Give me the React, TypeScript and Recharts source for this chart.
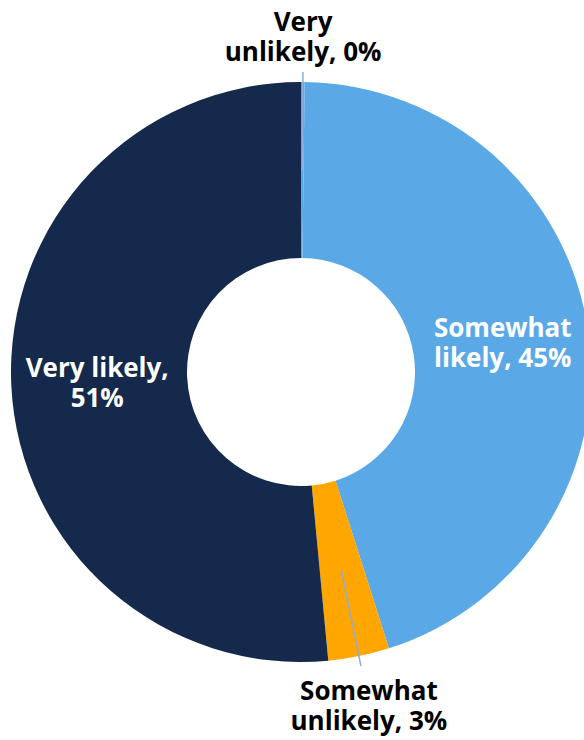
import { PieChart, Pie, Cell } from 'recharts';

const categories = ['Very unlikely', 'Somewhat likely', 'Somewhat unlikely', 'Very likely'];
const shares = [0.2, 44.9, 3.4, 51.5];
const labelLines = [
  ['Very', 'unlikely, 0%'],
  ['Somewhat', 'likely, 45%'],
  ['Somewhat', 'unlikely, 3%'],
  ['Very likely,', '51%'],
];

const colors = ['#5AA9E6', '#5AA9E6', '#FFA600', '#14294B'];
// where each label sits: inside the ring or outside with a leader line
const labelPlacement = [
  { outside: true, radius: 336, color: '#000000' },
  { outside: false, radius: 204, color: '#FFFFFF' },
  { outside: true, radius: 340, color: '#000000' },
  { outside: false, radius: 204, color: '#FFFFFF' },
];

const chartData = categories.map((name, i) => ({ name, value: shares[i] }));

const RADIAN = Math.PI / 180;

function renderLabel(props: any) {
  const { cx, cy, midAngle, innerRadius, outerRadius, index } = props;
  const place = labelPlacement[index];
  const cos = Math.cos(-midAngle * RADIAN);
  const sin = Math.sin(-midAngle * RADIAN);
  const tx = cx + place.radius * cos;
  const ty = cy + place.radius * sin;
  const lines = labelLines[index];
  const midR = (innerRadius + outerRadius) / 2;
  return (
    <g key={`label-${index}`}>
      {place.outside && (
        <line
          x1={cx + midR * cos}
          y1={cy + midR * sin}
          x2={cx + (outerRadius + 10) * cos}
          y2={cy + (outerRadius + 10) * sin}
          stroke="#8FAADC"
          strokeWidth={1.5}
        />
      )}
      <text
        x={tx}
        y={ty}
        textAnchor="middle"
        dominantBaseline="central"
        fill={place.color}
        style={{ fontFamily: '"Open Sans", sans-serif', fontWeight: 700, fontSize: 26 }}
      >
        <tspan x={tx} y={ty - 15}>{lines[0]}</tspan>
        <tspan x={tx} y={ty + 15}>{lines[1]}</tspan>
      </text>
    </g>
  );
}

export default function App() {
  return (
    <div style={{ position: 'absolute', left: 0, top: 0, width: 584, height: 740, background: '#fff' }}>
      <PieChart width={584} height={740} margin={{ top: 0, right: 0, bottom: 0, left: 0 }}>
        <Pie
          data={chartData}
          dataKey="value"
          nameKey="name"
          cx={301}
          cy={372}
          innerRadius={114}
          outerRadius={290}
          startAngle={90}
          endAngle={-270}
          stroke="none"
          label={renderLabel}
          labelLine={false}
          isAnimationActive={false}
        >
          {chartData.map((d, i) => (
            <Cell key={d.name} fill={colors[i]} />
          ))}
        </Pie>
      </PieChart>
    </div>
  );
}
